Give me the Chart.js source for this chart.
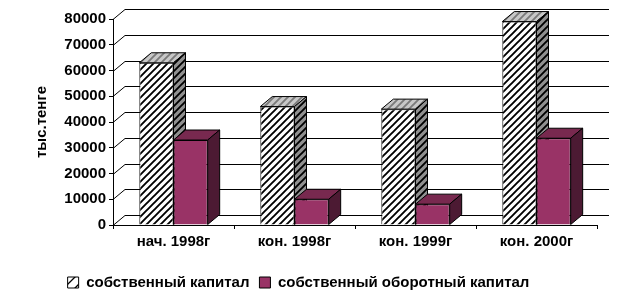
<!DOCTYPE html>
<html>
<head>
<meta charset="utf-8">
<script src="https://cdn.jsdelivr.net/npm/chart.js@4.4.1/dist/chart.umd.min.js"></script>
<style>
  body { margin: 0; background: #ffffff; }
  canvas { display: block; }
</style>
</head>
<body>
<canvas id="chart" width="634" height="303"></canvas>
<script>
/* -----------------------------
   DATA
----------------------------- */
const categories = ["нач. 1998г", "кон. 1998г", "кон. 1999г", "кон. 2000г"];
const equity = [63000, 46000, 45000, 79000];
const workingEquity = [33000, 10000, 8100, 33700];
const seriesNames = ["собственный капитал", "собственный оборотный капитал"];
const yMin = 0;
const yMax = 80000;
const yStep = 10000;
const yTitle = "тыс.тенге";

/* -----------------------------
   STYLE
----------------------------- */
const FONT = "'Liberation Sans', Arial, sans-serif";
const DX = 12;   // depth offset
const DY = -10;

function makeStripes(bg, fg, size, lw) {
    const c = document.createElement("canvas");
    c.width = size;
    c.height = size;
    const g = c.getContext("2d");
    g.fillStyle = bg;
    g.fillRect(0, 0, size, size);
    g.strokeStyle = fg;
    g.lineWidth = lw;
    g.beginPath();
    g.moveTo(-1, size + 1); g.lineTo(size + 1, -1);
    g.moveTo(-1, 1); g.lineTo(1, -1);
    g.moveTo(size - 1, size + 1); g.lineTo(size + 1, size - 1);
    g.stroke();
    return g.createPattern(c, "repeat");
}

const ctx = document.getElementById("chart").getContext("2d");

const hatchFront = makeStripes("#ffffff", "#000000", 7, 1.9);
const hatchTop = makeStripes("#c8c8c8", "#7a7a7a", 7, 1.9);
const hatchSide = makeStripes("#909090", "#000000", 7, 1.9);
const hatchLegend = makeStripes("#ffffff", "#000000", 11, 1.3);

const faces = [
    { top: hatchTop, side: hatchSide },
    { top: "#78294f", side: "#4c1a33" }
];

/* -----------------------------
   3D FACES + BACK WALL
----------------------------- */
function drawFaces(ctx, el, face) {
    const { x, y, base, width } = el.getProps(["x", "y", "base", "width"], true);
    const l = x - width / 2;
    const r = x + width / 2;

    ctx.beginPath();
    ctx.moveTo(l, y);
    ctx.lineTo(l + DX, y + DY);
    ctx.lineTo(r + DX, y + DY);
    ctx.lineTo(r, y);
    ctx.closePath();
    ctx.fillStyle = face.top;
    ctx.fill();
    ctx.stroke();

    ctx.beginPath();
    ctx.moveTo(r, y);
    ctx.lineTo(r + DX, y + DY);
    ctx.lineTo(r + DX, base + DY);
    ctx.lineTo(r, base);
    ctx.closePath();
    ctx.fillStyle = face.side;
    ctx.fill();
    ctx.stroke();
}

const depthPlugin = {
    id: "depth3d",
    beforeDatasetsDraw(chart) {
        const { ctx, chartArea } = chart;
        const y = chart.scales.y;
        ctx.save();
        ctx.strokeStyle = "#000000";
        ctx.lineWidth = 1;
        y.ticks.forEach(t => {
            const py = Math.round(y.getPixelForValue(t.value)) + 0.5;
            ctx.beginPath();
            ctx.moveTo(chartArea.left, py);
            ctx.lineTo(chartArea.left + DX, py + DY);
            ctx.lineTo(chartArea.right + DX, py + DY);
            ctx.stroke();
        });
        ctx.restore();
    },
    // the library's own pass is skipped so that the series go front-to-back in order
    beforeDatasetDraw() {
        return false;
    },
    afterDatasetsDraw(chart) {
        const { ctx } = chart;
        chart.data.datasets.forEach((ds, i) => {
            const meta = chart.getDatasetMeta(i);
            meta.data.forEach(el => {
                ctx.save();
                el.draw(ctx, chart.chartArea);
                ctx.restore();
                ctx.save();
                ctx.strokeStyle = "#000000";
                ctx.lineWidth = 1;
                drawFaces(ctx, el, faces[i]);
                ctx.restore();
            });
        });
    }
};

new Chart(ctx, {
    type: "bar",
    data: {
        labels: categories,
        datasets: [
            {
                label: seriesNames[0],
                data: equity,
                backgroundColor: hatchFront,
                borderColor: "#000000",
                borderWidth: 1
            },
            {
                label: seriesNames[1],
                data: workingEquity,
                backgroundColor: "#993366",
                borderColor: "#000000",
                borderWidth: 1
            }
        ]
    },
    plugins: [depthPlugin],
    options: {
        responsive: false,
        animation: false,
        devicePixelRatio: 1,
        layout: { padding: { left: 0, right: 37, top: 19, bottom: 3 } },
        datasets: {
            bar: { categoryPercentage: 0.565, barPercentage: 1 }
        },
        plugins: {
            tooltip: { enabled: false },
            legend: {
                position: "bottom",
                labels: {
                    color: "#000000",
                    font: { family: FONT, size: 15, weight: "bold" },
                    boxWidth: 11,
                    boxHeight: 11,
                    padding: 10,
                    generateLabels: (chart) => {
                        const items = Chart.defaults.plugins.legend.labels.generateLabels(chart);
                        items[0].fillStyle = hatchLegend;
                        items.forEach(it => { it.strokeStyle = "#000000"; it.lineWidth = 1; });
                        return items;
                    }
                }
            }
        },
        scales: {
            x: {
                grid: {
                    offset: true,
                    drawOnChartArea: false,
                    drawTicks: true,
                    tickLength: 4,
                    color: "#000000"
                },
                border: { display: true, color: "#000000", width: 1 },
                ticks: {
                    color: "#000000",
                    padding: 4,
                    maxRotation: 0,
                    font: { family: FONT, size: 15, weight: "bold" }
                },
                afterFit: (scale) => { scale.height = 40; }
            },
            y: {
                min: yMin,
                max: yMax,
                ticks: {
                    stepSize: yStep,
                    color: "#000000",
                    padding: 3,
                    font: { family: FONT, size: 15, weight: "bold" },
                    callback: (v) => String(v)
                },
                grid: {
                    drawOnChartArea: false,
                    drawTicks: true,
                    tickLength: 4,
                    color: "#000000"
                },
                border: { display: true, color: "#000000", width: 1 },
                title: {
                    display: true,
                    text: yTitle,
                    color: "#000000",
                    padding: { top: 33, bottom: 0 },
                    font: { family: FONT, size: 15, weight: "bold" }
                },
                afterFit: (scale) => { scale.width = 113; }
            }
        }
    }
});
</script>
</body>
</html>
